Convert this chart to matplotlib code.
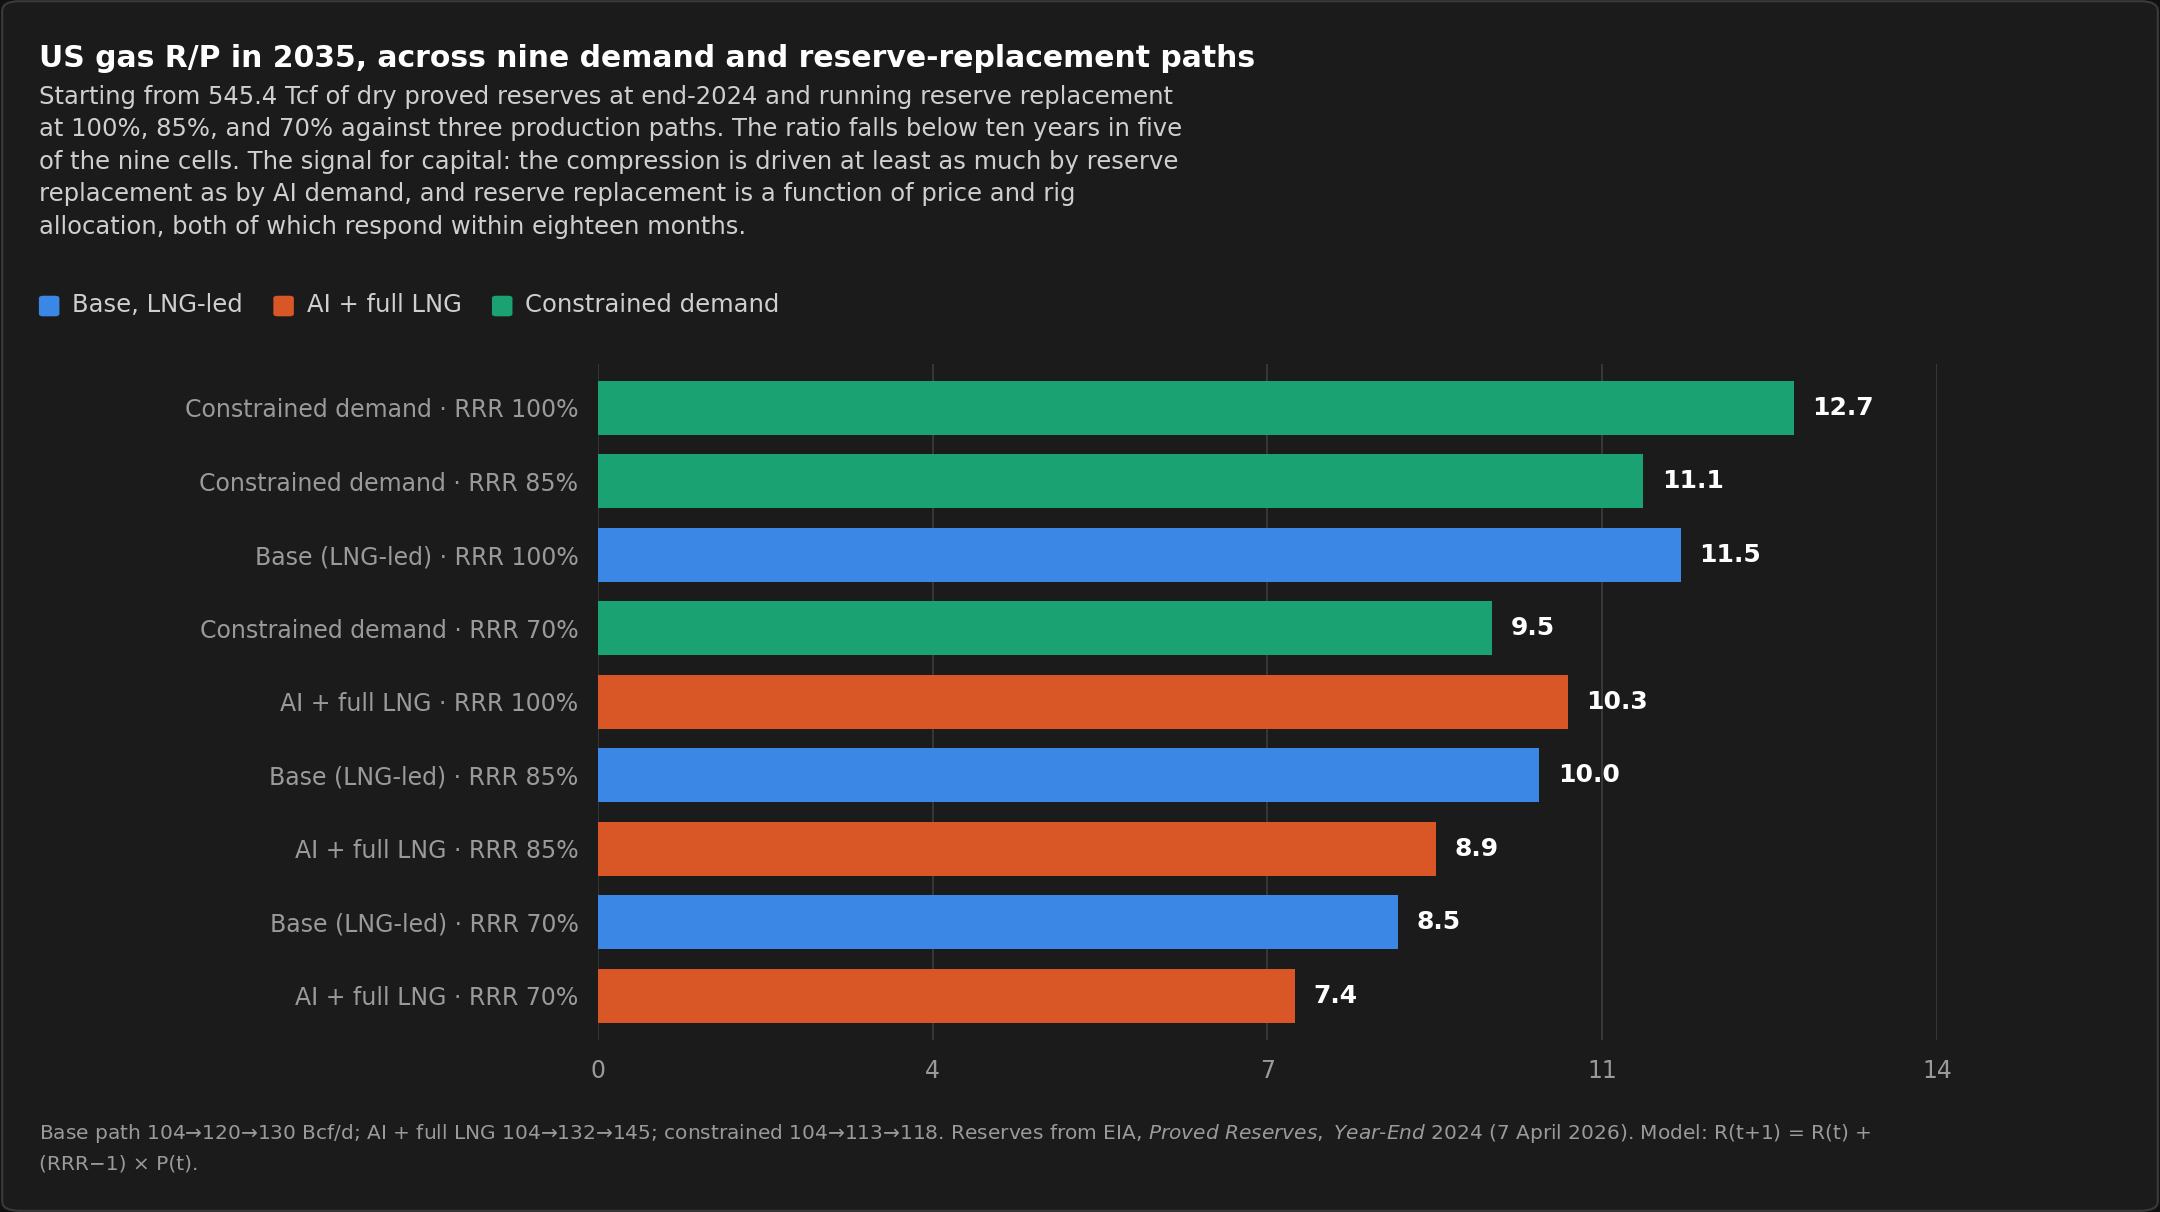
import matplotlib.pyplot as plt
from matplotlib.patches import FancyBboxPatch
import numpy as np

labels = ['Constrained demand · RRR 100%', 'Constrained demand · RRR 85%',
          'Base (LNG-led) · RRR 100%', 'Constrained demand · RRR 70%',
          'AI + full LNG · RRR 100%', 'Base (LNG-led) · RRR 85%',
          'AI + full LNG · RRR 85%', 'Base (LNG-led) · RRR 70%',
          'AI + full LNG · RRR 70%']
values = [12.7, 11.1, 11.5, 9.5, 10.3, 10.0, 8.9, 8.5, 7.4]
groups = ['c', 'c', 'b', 'c', 'a', 'b', 'a', 'b', 'a']

colors = {'b': '#3a87e5', 'a': '#d95627', 'c': '#1aa273'}
names = {'b': 'Base, LNG-led', 'a': 'AI + full LNG', 'c': 'Constrained demand'}

bg = '#1b1b1b'
fig = plt.figure(figsize=(21.6, 12.12), dpi=100)
fig.patch.set_facecolor('#111111')
frame = FancyBboxPatch((0.001, 0.001), 0.998, 0.998, boxstyle='round,pad=0,rounding_size=0.008',
                       transform=fig.transFigure, facecolor=bg, edgecolor='#3a3a3a', lw=1.5, zorder=-10)
fig.patches.append(frame)

ax = fig.add_axes([0.2768, 0.142, 0.62, 0.558])
ax.set_facecolor('none')
y = np.arange(len(values))
ax.barh(y, values, height=0.73, color=[colors[g] for g in groups], zorder=3)
xmax = max(values) * 1.12
ticks = np.linspace(0, xmax, 5)
ax.set_xlim(0, xmax)
ax.set_xticks(ticks)
ax.set_xticklabels([f'{t:.0f}' for t in ticks])
ax.set_ylim(len(values) - 0.5 + 0.1, -0.5 - 0.1)
ax.set_yticks(y)
ax.set_yticklabels(labels)
ax.tick_params(colors='#9a9a9a', labelsize=17, length=0, pad=14)
ax.grid(axis='x', color='#3a3a3a', lw=1.3, zorder=0)
for s in ax.spines.values():
    s.set_visible(False)
for yi, v in zip(y, values):
    ax.text(v + 0.2, yi, f'{v:.1f}', va='center', ha='left', color='white',
            fontsize=18, fontweight='bold')

fig.text(0.018, 0.952, 'US gas R/P in 2035, across nine demand and reserve-replacement paths',
         color='white', fontsize=21.5, fontweight='bold', va='center')
sub = ('Starting from 545.4 Tcf of dry proved reserves at end-2024 and running reserve replacement\n'
       'at 100%, 85%, and 70% against three production paths. The ratio falls below ten years in five\n'
       'of the nine cells. The signal for capital: the compression is driven at least as much by reserve\n'
       'replacement as by AI demand, and reserve replacement is a function of price and rig\n'
       'allocation, both of which respond within eighteen months.')
fig.text(0.018, 0.930, sub, color='#cfcfcf', fontsize=17.5, va='top', linespacing=1.45)

lx = 0.018
for k in ['b', 'a', 'c']:
    fig.patches.append(FancyBboxPatch((lx, 0.739), 0.0095, 0.017, boxstyle='round,pad=0,rounding_size=0.002',
                                      transform=fig.transFigure, facecolor=colors[k], edgecolor='none'))
    t = fig.text(lx + 0.0155, 0.748, names[k], color='#cfcfcf', fontsize=17.5, va='center')
    fig.canvas.draw()
    bb = t.get_window_extent()
    lx = bb.x1 / fig.bbox.width + 0.014

fig.text(0.018, 0.053,
         'Base path 104→120→130 Bcf/d; AI + full LNG 104→132→145; constrained 104→113→118. Reserves from EIA, '
         '$\\it{Proved\\ Reserves,\\ Year\\text{-}End\\ 2024}$ (7 April 2026). Model: R(t+1) = R(t) +\n(RRR−1) × P(t).',
         color='#9a9a9a', fontsize=14.5, va='center', linespacing=1.6)

fig.savefig('out.png', facecolor=fig.get_facecolor())
